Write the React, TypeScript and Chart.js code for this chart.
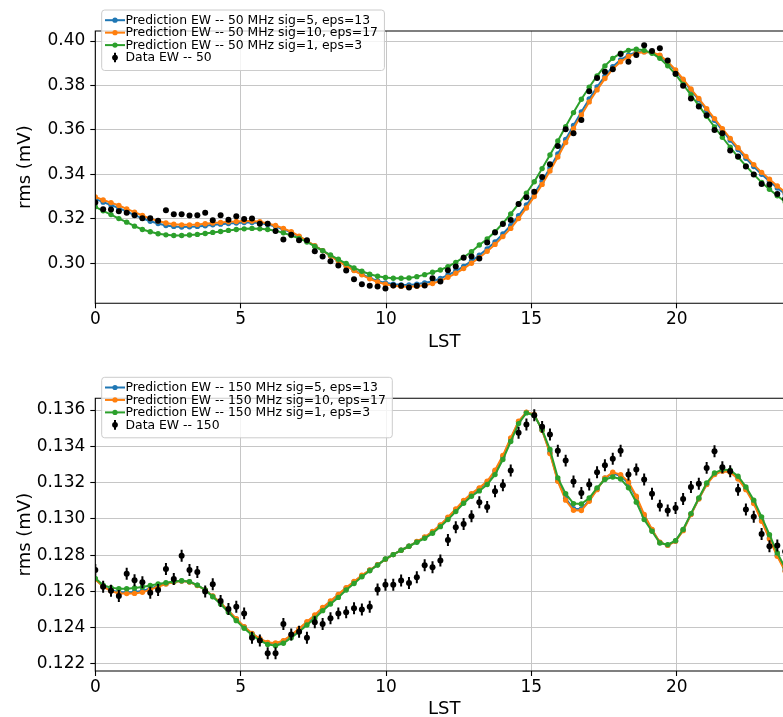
import React, { useEffect, useRef } from "react";
import { Chart, registerables } from "chart.js";

Chart.register(...registerables);

const FONT = "'DejaVu Sans', 'Liberation Sans', sans-serif";
const BLUE = "#1f77b4";
const ORANGE = "#ff7f0e";
const GREEN = "#2ca02c";
const GRID = "#c6c6c6";

const LST = [
  0, 0.27, 0.54, 0.81, 1.08, 1.35, 1.62, 1.89, 2.16, 2.43,
  2.70, 2.97, 3.24, 3.51, 3.78, 4.04, 4.31, 4.58, 4.85, 5.12,
  5.39, 5.66, 5.93, 6.20, 6.47, 6.74, 7.01, 7.28, 7.55, 7.82,
  8.09, 8.36, 8.63, 8.90, 9.17, 9.44, 9.71, 9.98, 10.25, 10.52,
  10.79, 11.06, 11.33, 11.60, 11.87, 12.13, 12.40, 12.67, 12.94, 13.21,
  13.48, 13.75, 14.02, 14.29, 14.56, 14.83, 15.10, 15.37, 15.64, 15.91,
  16.18, 16.45, 16.72, 16.99, 17.26, 17.53, 17.80, 18.07, 18.34, 18.61,
  18.88, 19.15, 19.42, 19.69, 19.96, 20.22, 20.49, 20.76, 21.03, 21.30,
  21.57, 21.84, 22.11, 22.38, 22.65, 22.92, 23.19, 23.46, 23.73,
];

const X_TICKS = [0, 5, 10, 15, 20];

// ---------- 50 MHz panel ----------
const TOP_Y_TICKS = [0.30, 0.32, 0.34, 0.36, 0.38, 0.40];
const TOP_LABELS = [
  "Prediction EW -- 50 MHz sig=5, eps=13",
  "Prediction EW -- 50 MHz sig=10, eps=17",
  "Prediction EW -- 50 MHz sig=1, eps=3",
  "Data EW -- 50",
];
const TOP_SIG5 = [
  0.3290, 0.3275, 0.3262, 0.3248, 0.3233, 0.3217, 0.3202, 0.3189, 0.3179, 0.3170,
  0.3166, 0.3163, 0.3164, 0.3166, 0.3169, 0.3173, 0.3176, 0.3179, 0.3181, 0.3183,
  0.3183, 0.3181, 0.3174, 0.3165, 0.3153, 0.3139, 0.3120, 0.3100, 0.3078, 0.3057,
  0.3034, 0.3012, 0.2990, 0.2969, 0.2951, 0.2934, 0.2921, 0.2912, 0.2906, 0.2903,
  0.2902, 0.2906, 0.2912, 0.2918, 0.2932, 0.2947, 0.2965, 0.2986, 0.3010, 0.3036,
  0.3065, 0.3096, 0.3132, 0.3170, 0.3214, 0.3262, 0.3313, 0.3369, 0.3429, 0.3492,
  0.3557, 0.3620, 0.3681, 0.3739, 0.3793, 0.3842, 0.3884, 0.3915, 0.3936, 0.3949,
  0.3952, 0.3948, 0.3933, 0.3903, 0.3866, 0.3823, 0.3779, 0.3735, 0.3689, 0.3643,
  0.3598, 0.3554, 0.3512, 0.3472, 0.3435, 0.3400, 0.3369, 0.3339, 0.3312,
];
const TOP_SIG10 = [
  0.3299, 0.3285, 0.3273, 0.3260, 0.3245, 0.3230, 0.3215, 0.3201, 0.3190, 0.3181,
  0.3176, 0.3173, 0.3173, 0.3175, 0.3178, 0.3181, 0.3184, 0.3187, 0.3188, 0.3190,
  0.3190, 0.3187, 0.3179, 0.3170, 0.3157, 0.3142, 0.3122, 0.3101, 0.3079, 0.3057,
  0.3033, 0.3010, 0.2988, 0.2967, 0.2948, 0.2930, 0.2916, 0.2906, 0.2899, 0.2896,
  0.2894, 0.2897, 0.2901, 0.2909, 0.2921, 0.2937, 0.2955, 0.2976, 0.3000, 0.3025,
  0.3054, 0.3085, 0.3120, 0.3157, 0.3201, 0.3249, 0.3300, 0.3355, 0.3415, 0.3478,
  0.3543, 0.3606, 0.3667, 0.3726, 0.3780, 0.3831, 0.3874, 0.3907, 0.3930, 0.3945,
  0.3951, 0.3949, 0.3936, 0.3907, 0.3870, 0.3828, 0.3784, 0.3741, 0.3696, 0.3651,
  0.3606, 0.3562, 0.3520, 0.3481, 0.3444, 0.3409, 0.3378, 0.3348, 0.3321,
];
const TOP_SIG1 = [
  0.3254, 0.3236, 0.3219, 0.3201, 0.3185, 0.3167, 0.3152, 0.3142, 0.3133, 0.3128,
  0.3125, 0.3125, 0.3127, 0.3130, 0.3134, 0.3139, 0.3143, 0.3148, 0.3152, 0.3155,
  0.3157, 0.3155, 0.3152, 0.3146, 0.3137, 0.3125, 0.3112, 0.3096, 0.3076, 0.3057,
  0.3037, 0.3018, 0.2999, 0.2979, 0.2964, 0.2951, 0.2942, 0.2936, 0.2933, 0.2933,
  0.2934, 0.2940, 0.2949, 0.2960, 0.2970, 0.2985, 0.3004, 0.3027, 0.3052, 0.3082,
  0.3109, 0.3142, 0.3180, 0.3222, 0.3267, 0.3315, 0.3367, 0.3426, 0.3487, 0.3550,
  0.3615, 0.3678, 0.3738, 0.3792, 0.3843, 0.3888, 0.3922, 0.3945, 0.3958, 0.3963,
  0.3958, 0.3945, 0.3922, 0.3889, 0.3850, 0.3805, 0.3757, 0.3709, 0.3661, 0.3613,
  0.3567, 0.3522, 0.3478, 0.3438, 0.3400, 0.3364, 0.3333, 0.3304, 0.3277,
];
const TOP_DATA = [
  0.3273, 0.3243, 0.3242, 0.3234, 0.3227, 0.3216, 0.3203, 0.3203, 0.3191, 0.3239,
  0.3221, 0.3221, 0.3215, 0.3216, 0.3227, 0.3194, 0.3216, 0.3196, 0.3212, 0.3199,
  0.3201, 0.3178, 0.3178, 0.3145, 0.3107, 0.3128, 0.3104, 0.3104, 0.3054, 0.3030,
  0.3009, 0.2990, 0.2967, 0.2928, 0.2906, 0.2899, 0.2896, 0.2887, 0.2900, 0.2899,
  0.2891, 0.2899, 0.2900, 0.2933, 0.2918, 0.2969, 0.2985, 0.3025, 0.3030, 0.3022,
  0.3093, 0.3139, 0.3177, 0.3195, 0.3267, 0.3297, 0.3322, 0.3388, 0.3445, 0.3528,
  0.3603, 0.3585, 0.3645, 0.3774, 0.3834, 0.3862, 0.3873, 0.3942, 0.3907, 0.3937,
  0.3981, 0.3955, 0.3967, 0.3912, 0.3853, 0.3799, 0.3741, 0.3705, 0.3666, 0.3600,
  0.3585, 0.3507, 0.3480, 0.3435, 0.3399, 0.3357, 0.3354, 0.3312, 0.3290,
];

// ---------- 150 MHz panel ----------
const BOT_Y_TICKS = [0.122, 0.124, 0.126, 0.128, 0.130, 0.132, 0.134, 0.136];
const BOT_LABELS = [
  "Prediction EW -- 150 MHz sig=5, eps=13",
  "Prediction EW -- 150 MHz sig=10, eps=17",
  "Prediction EW -- 150 MHz sig=1, eps=3",
  "Data EW -- 150",
];
const BOT_SIG5 = [
  0.12668, 0.12628, 0.12607, 0.12596, 0.12595, 0.12597, 0.12602, 0.12616, 0.12630, 0.12643,
  0.12653, 0.12658, 0.12653, 0.12634, 0.12608, 0.12574, 0.12536, 0.12492, 0.12447, 0.12404,
  0.12367, 0.12337, 0.12316, 0.12312, 0.12325, 0.12356, 0.12391, 0.12428, 0.12465, 0.12507,
  0.12543, 0.12580, 0.12618, 0.12652, 0.12687, 0.12717, 0.12747, 0.12777, 0.12803, 0.12827,
  0.12849, 0.12874, 0.12898, 0.12928, 0.12964, 0.13006, 0.13051, 0.13097, 0.13135, 0.13167,
  0.13202, 0.13262, 0.13343, 0.13441, 0.13535, 0.13587, 0.13574, 0.13490, 0.13366, 0.13212,
  0.13112, 0.13056, 0.13055, 0.13102, 0.13164, 0.13224, 0.13250, 0.13238, 0.13196, 0.13117,
  0.13017, 0.12939, 0.12870, 0.12855, 0.12878, 0.12937, 0.13025, 0.13111, 0.13191, 0.13246,
  0.13265, 0.13260, 0.13224, 0.13165, 0.13089, 0.12993, 0.12895, 0.12799, 0.12716,
];
const BOT_SIG10 = [
  0.12666, 0.12626, 0.12602, 0.12589, 0.12588, 0.12589, 0.12595, 0.12610, 0.12626, 0.12641,
  0.12652, 0.12657, 0.12652, 0.12633, 0.12608, 0.12575, 0.12538, 0.12494, 0.12450, 0.12406,
  0.12369, 0.12340, 0.12319, 0.12316, 0.12329, 0.12360, 0.12395, 0.12433, 0.12470, 0.12512,
  0.12547, 0.12584, 0.12621, 0.12655, 0.12689, 0.12718, 0.12747, 0.12777, 0.12803, 0.12827,
  0.12849, 0.12875, 0.12900, 0.12930, 0.12967, 0.13009, 0.13055, 0.13101, 0.13139, 0.13171,
  0.13207, 0.13268, 0.13349, 0.13446, 0.13538, 0.13588, 0.13575, 0.13489, 0.13360, 0.13207,
  0.13103, 0.13047, 0.13046, 0.13097, 0.13161, 0.13226, 0.13257, 0.13244, 0.13204, 0.13125,
  0.13024, 0.12941, 0.12871, 0.12854, 0.12877, 0.12935, 0.13024, 0.13110, 0.13189, 0.13244,
  0.13263, 0.13257, 0.13220, 0.13161, 0.13084, 0.12987, 0.12889, 0.12794, 0.12711,
];
const BOT_SIG1 = [
  0.12672, 0.12635, 0.12621, 0.12615, 0.12615, 0.12619, 0.12624, 0.12633, 0.12641, 0.12648,
  0.12655, 0.12659, 0.12654, 0.12635, 0.12608, 0.12571, 0.12531, 0.12485, 0.12439, 0.12397,
  0.12360, 0.12329, 0.12308, 0.12301, 0.12314, 0.12345, 0.12378, 0.12415, 0.12452, 0.12494,
  0.12531, 0.12567, 0.12608, 0.12644, 0.12681, 0.12714, 0.12745, 0.12779, 0.12803, 0.12827,
  0.12849, 0.12871, 0.12893, 0.12921, 0.12957, 0.12996, 0.13040, 0.13086, 0.13125, 0.13154,
  0.13189, 0.13244, 0.13327, 0.13426, 0.13525, 0.13584, 0.13570, 0.13492, 0.13382, 0.13226,
  0.13139, 0.13084, 0.13082, 0.13115, 0.13171, 0.13217, 0.13231, 0.13220, 0.13171, 0.13092,
  0.12996, 0.12932, 0.12867, 0.12858, 0.12880, 0.12941, 0.13029, 0.13115, 0.13198, 0.13253,
  0.13272, 0.13268, 0.13235, 0.13176, 0.13103, 0.13011, 0.12913, 0.12812, 0.12729,
];
const BOT_DATA = [
  0.12718, 0.12626, 0.12604, 0.12575, 0.12698, 0.12661, 0.12650, 0.12593, 0.12608, 0.12723,
  0.12668, 0.12797, 0.12718, 0.12707, 0.12600, 0.12639, 0.12547, 0.12503, 0.12516, 0.12479,
  0.12345, 0.12329, 0.12259, 0.12259, 0.12420, 0.12363, 0.12378, 0.12345, 0.12430, 0.12420,
  0.12452, 0.12479, 0.12485, 0.12507, 0.12501, 0.12516, 0.12611, 0.12637, 0.12637, 0.12660,
  0.12647, 0.12678, 0.12744, 0.12733, 0.12770, 0.12884, 0.12954, 0.12972, 0.13014, 0.13092,
  0.13066, 0.13152, 0.13185, 0.13266, 0.13474, 0.13520, 0.13571, 0.13507, 0.13465, 0.13376,
  0.13321, 0.13206, 0.13143, 0.13189, 0.13257, 0.13296, 0.13331, 0.13376, 0.13244, 0.13272,
  0.13217, 0.13138, 0.13073, 0.13046, 0.13060, 0.13110, 0.13176, 0.13193, 0.13281, 0.13373,
  0.13285, 0.13263, 0.13161, 0.13051, 0.13011, 0.12917, 0.12849, 0.12853, 0.12820,
];
const BOT_ERR = [
  0.00033, 0.00033, 0.00033, 0.00033, 0.00033, 0.00033, 0.00033, 0.00033, 0.00033, 0.00033,
  0.00033, 0.00033, 0.00033, 0.00033, 0.00033, 0.00033, 0.00033, 0.00033, 0.00033, 0.00033,
  0.00033, 0.00033, 0.00033, 0.00033, 0.00033, 0.00033, 0.00033, 0.00033, 0.00033, 0.00033,
  0.00033, 0.00033, 0.00033, 0.00033, 0.00033, 0.00033, 0.00033, 0.00033, 0.00033, 0.00033,
  0.00033, 0.00033, 0.00033, 0.00033, 0.00033, 0.00033, 0.00033, 0.00033, 0.00033, 0.00033,
  0.00033, 0.00033, 0.00033, 0.00033, 0.00033, 0.00033, 0.00033, 0.00033, 0.00033, 0.00033,
  0.00033, 0.00033, 0.00033, 0.00033, 0.00033, 0.00033, 0.00033, 0.00033, 0.00033, 0.00033,
  0.00033, 0.00033, 0.00033, 0.00033, 0.00033, 0.00033, 0.00033, 0.00033, 0.00033, 0.00033,
  0.00033, 0.00033, 0.00033, 0.00033, 0.00033, 0.00033, 0.00033, 0.00033, 0.00033,
];

type Spec = {
  top: number;
  height: number;
  areaTop: number;
  areaBottom: number;
  yMin: number;
  yMax: number;
  yTicks: number[];
  dec: number;
  sig5: number[];
  sig10: number[];
  sig1: number[];
  data: number[];
  err: number[] | null;
  labels: string[];
  titlePadB: number;
};

const CANVAS_W = 800;
const AREA_LEFT = 95.3;
const AREA_RIGHT = 793.0;

const SPECS: Spec[] = [
  {
    top: 0, height: 365, areaTop: 31, areaBottom: 303.3,
    yMin: 0.2820, yMax: 0.4045, yTicks: TOP_Y_TICKS, dec: 2,
    sig5: TOP_SIG5, sig10: TOP_SIG10, sig1: TOP_SIG1, data: TOP_DATA, err: null,
    labels: TOP_LABELS, titlePadB: 12.2,
  },
  {
    top: 365, height: 370, areaTop: 33.3, areaBottom: 306,
    yMin: 0.121614, yMax: 0.136645, yTicks: BOT_Y_TICKS, dec: 3,
    sig5: BOT_SIG5, sig10: BOT_SIG10, sig1: BOT_SIG1, data: BOT_DATA, err: BOT_ERR,
    labels: BOT_LABELS, titlePadB: 15.2,
  },
];

function pts(ys: number[]) {
  return LST.map((x, i) => ({ x, y: ys[i] }));
}

const spinesPlugin = {
  id: "spines",
  afterDatasetsDraw(chart: any) {
    const { ctx, chartArea: a } = chart;
    ctx.save();
    ctx.strokeStyle = "#000";
    ctx.lineWidth = 1.1;
    ctx.beginPath();
    ctx.rect(a.left, a.top, a.right - a.left, a.bottom - a.top);
    ctx.stroke();
    ctx.restore();
  },
};

const errorBarPlugin = {
  id: "errorBars",
  beforeDatasetDraw(chart: any, args: any) {
    const ds: any = chart.data.datasets[args.index];
    if (!ds.errors) return;
    const meta = chart.getDatasetMeta(args.index);
    const ys = chart.scales.y;
    const { ctx, chartArea: a } = chart;
    ctx.save();
    ctx.beginPath();
    ctx.rect(a.left, a.top, a.right - a.left, a.bottom - a.top);
    ctx.clip();
    ctx.strokeStyle = "#000";
    ctx.lineWidth = 2;
    meta.data.forEach((el: any, i: number) => {
      const v = ds.data[i].y;
      const e = ds.errors[i];
      ctx.beginPath();
      ctx.moveTo(el.x, ys.getPixelForValue(v - e));
      ctx.lineTo(el.x, ys.getPixelForValue(v + e));
      ctx.stroke();
    });
    ctx.restore();
  },
};

function makeLegendPlugin(labels: string[]) {
  return {
    id: "customLegend",
    afterDraw(chart: any) {
      const { ctx, chartArea: a } = chart;
      const fontSize = 12.4;
      ctx.save();
      ctx.font = `${fontSize}px ${FONT}`;
      const maxW = Math.max(...labels.map((l) => ctx.measureText(l).width));
      const x0 = a.left + 6.4;
      const y0 = a.top - 21;
      const textOff = 23.8;
      const w = textOff + maxW + 6.5;
      const h = 60.5;
      const r = 3;
      ctx.beginPath();
      ctx.moveTo(x0 + r, y0);
      ctx.lineTo(x0 + w - r, y0);
      ctx.arcTo(x0 + w, y0, x0 + w, y0 + r, r);
      ctx.lineTo(x0 + w, y0 + h - r);
      ctx.arcTo(x0 + w, y0 + h, x0 + w - r, y0 + h, r);
      ctx.lineTo(x0 + r, y0 + h);
      ctx.arcTo(x0, y0 + h, x0, y0 + h - r, r);
      ctx.lineTo(x0, y0 + r);
      ctx.arcTo(x0, y0, x0 + r, y0, r);
      ctx.closePath();
      ctx.fillStyle = "rgba(255,255,255,0.8)";
      ctx.fill();
      ctx.strokeStyle = "#cccccc";
      ctx.lineWidth = 1;
      ctx.stroke();

      const colors = [BLUE, ORANGE, GREEN];
      for (let k = 0; k < 4; k++) {
        const cy = y0 + 10.2 + k * 12.45;
        const hx0 = x0 + 3.3;
        const hx1 = x0 + 23.3;
        const mx = (hx0 + hx1) / 2;
        if (k < 3) {
          ctx.strokeStyle = colors[k];
          ctx.lineWidth = 2;
          ctx.beginPath();
          ctx.moveTo(hx0, cy);
          ctx.lineTo(hx1, cy);
          ctx.stroke();
          ctx.fillStyle = colors[k];
          ctx.beginPath();
          ctx.arc(mx, cy, 2.6, 0, Math.PI * 2);
          ctx.fill();
        } else {
          ctx.strokeStyle = "#000";
          ctx.lineWidth = 2;
          ctx.beginPath();
          ctx.moveTo(mx, cy - 4.8);
          ctx.lineTo(mx, cy + 4.8);
          ctx.stroke();
          ctx.fillStyle = "#000";
          ctx.beginPath();
          ctx.arc(mx, cy, 2.9, 0, Math.PI * 2);
          ctx.fill();
        }
        ctx.fillStyle = "#000";
        ctx.textAlign = "left";
        ctx.textBaseline = "middle";
        ctx.fillText(labels[k], x0 + textOff, cy + 0.5);
      }
      ctx.restore();
    },
  };
}

function Panel({ spec }: { spec: Spec }) {
  const ref = useRef<HTMLCanvasElement>(null);
  useEffect(() => {
    const canvas = ref.current;
    if (!canvas) return;
    const line = (label: string, ys: number[], color: string, order: number) => ({
      label,
      data: pts(ys),
      borderColor: color,
      backgroundColor: color,
      pointBackgroundColor: color,
      pointBorderColor: color,
      pointBorderWidth: 0,
      pointRadius: 2.7,
      borderWidth: 2,
      tension: 0,
      order,
    });
    const datasets: any[] = [
      line(spec.labels[0], spec.sig5, BLUE, 3),
      line(spec.labels[1], spec.sig10, ORANGE, 2),
      line(spec.labels[2], spec.sig1, GREEN, 1),
      {
        label: spec.labels[3],
        data: pts(spec.data),
        showLine: false,
        borderColor: "#000",
        backgroundColor: "#000",
        pointBackgroundColor: "#000",
        pointBorderColor: "#000",
        pointBorderWidth: 0,
        pointRadius: 3,
        errors: spec.err,
        order: 0,
      },
    ];
    const chart = new Chart(canvas, {
      type: "line",
      data: { datasets },
      options: {
        responsive: false,
        animation: false,
        events: [],
        layout: {
          padding: { top: spec.areaTop, right: CANVAS_W - AREA_RIGHT, left: 0, bottom: 0 },
        },
        plugins: { legend: { display: false }, tooltip: { enabled: false } },
        scales: {
          x: {
            type: "linear",
            min: 0,
            max: 24,
            afterBuildTicks: (s: any) => {
              s.ticks = X_TICKS.map((v) => ({ value: v }));
            },
            afterFit: (s: any) => {
              s.height = spec.height - spec.areaBottom;
            },
            grid: { color: GRID, lineWidth: 1, tickLength: 5, tickColor: "#000", tickWidth: 1.1 },
            border: { display: false },
            ticks: {
              color: "#000",
              font: { family: FONT, size: 17 },
              padding: 1.5,
              maxRotation: 0,
              autoSkip: false,
              callback: (v: any) => String(v),
            },
            title: {
              display: true,
              text: "LST",
              color: "#000",
              font: { family: FONT, size: 18 },
              padding: { top: 0, bottom: spec.titlePadB },
            },
          },
          y: {
            type: "linear",
            min: spec.yMin,
            max: spec.yMax,
            afterBuildTicks: (s: any) => {
              s.ticks = spec.yTicks.map((v) => ({ value: v }));
            },
            afterFit: (s: any) => {
              s.width = AREA_LEFT;
            },
            grid: { color: GRID, lineWidth: 1, tickLength: 5, tickColor: "#000", tickWidth: 1.1 },
            border: { display: false },
            ticks: {
              color: "#000",
              font: { family: FONT, size: 17 },
              padding: 5,
              autoSkip: false,
              callback: (v: any) => Number(v).toFixed(spec.dec),
            },
            title: {
              display: true,
              text: "rms (mV)",
              color: "#000",
              font: { family: FONT, size: 18 },
              padding: { top: 14.2, bottom: 0 },
            },
          },
        },
      } as any,
      plugins: [errorBarPlugin, spinesPlugin, makeLegendPlugin(spec.labels)],
    });
    return () => chart.destroy();
  }, [spec]);
  return (
    <canvas
      ref={ref}
      width={CANVAS_W}
      height={spec.height}
      style={{ position: "absolute", left: 0, top: spec.top, width: CANVAS_W, height: spec.height, display: "block" }}
    />
  );
}

export default function App() {
  return (
    <div
      style={{
        position: "fixed",
        left: 0,
        top: 0,
        width: 783,
        height: 717,
        overflow: "hidden",
        background: "#fff",
      }}
    >
      {SPECS.map((s, i) => (
        <Panel key={i} spec={s} />
      ))}
    </div>
  );
}
